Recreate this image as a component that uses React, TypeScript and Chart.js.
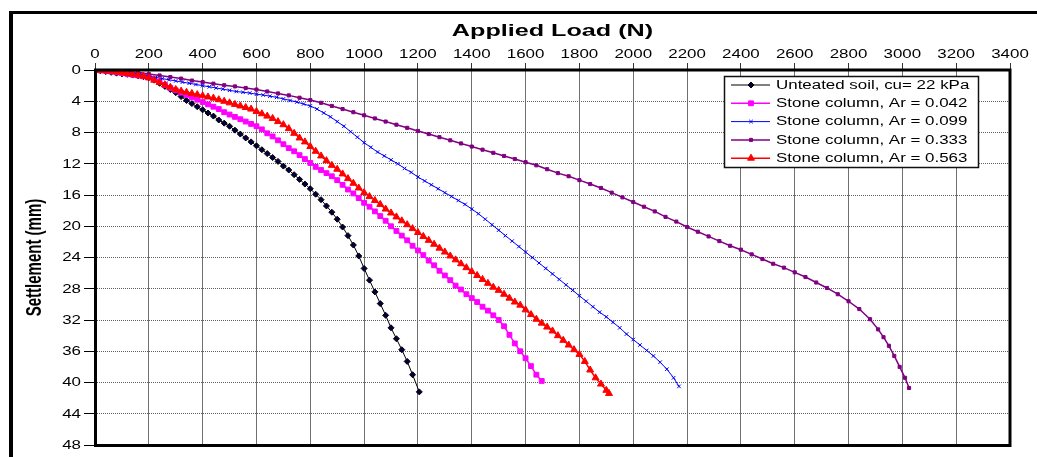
import React, { useEffect, useRef } from 'react';
import { Chart, registerables } from 'chart.js';

Chart.register(...registerables);

// ---------- data (load N, settlement mm) ----------
const untreatedSoil: [number, number][] = [
  [0, 0], [20, 0.1], [40, 0.2], [60, 0.3], [80, 0.4], [100, 0.5], [120, 0.55], [140, 0.65], [160, 0.75], [180, 0.85],
  [200, 1.0], [220, 1.3], [240, 1.7], [260, 2.1], [280, 2.5], [300, 2.9], [320, 3.4], [340, 3.9], [360, 4.3], [380, 4.7],
  [400, 5.1], [420, 5.5], [440, 5.9], [460, 6.4], [480, 6.8], [500, 7.2], [520, 7.7], [540, 8.2], [560, 8.7], [580, 9.2],
  [600, 9.7], [620, 10.2], [640, 10.7], [660, 11.2], [680, 11.7], [700, 12.3], [720, 12.8], [740, 13.4], [760, 14.0], [780, 14.6],
  [800, 15.2], [820, 15.9], [840, 16.6], [860, 17.4], [880, 18.2], [900, 19.1], [920, 20.1], [940, 21.2], [960, 22.4], [980, 23.8],
  [1000, 25.4], [1020, 26.9], [1040, 28.4], [1060, 29.9], [1080, 31.4], [1100, 33.0], [1120, 34.4], [1140, 35.8], [1160, 37.3], [1180, 39.0],
  [1205, 41.2],
];

const stoneAr042: [number, number][] = [
  [0, 0], [20, 0.05], [40, 0.1], [60, 0.2], [80, 0.3], [100, 0.4], [120, 0.5], [140, 0.6], [160, 0.7], [180, 0.8],
  [200, 0.95], [220, 1.2], [240, 1.5], [260, 1.9], [280, 2.3], [300, 2.6], [320, 2.9], [340, 3.2], [360, 3.5], [380, 3.8],
  [400, 4.1], [420, 4.4], [440, 4.7], [460, 5.0], [480, 5.4], [500, 5.7], [520, 6.0], [540, 6.3], [560, 6.6], [580, 6.9],
  [600, 7.2], [620, 7.6], [640, 8.1], [660, 8.5], [680, 9.0], [700, 9.5], [720, 10.0], [740, 10.4], [760, 10.9], [780, 11.4],
  [800, 11.9], [820, 12.4], [840, 12.8], [860, 13.2], [880, 13.6], [900, 14.1], [920, 14.7], [940, 15.3], [960, 15.8], [980, 16.4],
  [1000, 17.0], [1020, 17.5], [1040, 18.1], [1060, 18.7], [1080, 19.3], [1100, 20.0], [1120, 20.6], [1140, 21.2], [1160, 21.8], [1180, 22.5],
  [1200, 23.1], [1220, 23.7], [1240, 24.4], [1260, 25.0], [1280, 25.7], [1300, 26.3], [1320, 26.9], [1340, 27.6], [1360, 28.1], [1380, 28.7],
  [1400, 29.2], [1420, 29.7], [1440, 30.3], [1460, 30.8], [1480, 31.4], [1500, 32.0], [1520, 32.8], [1540, 33.9], [1560, 35.0], [1580, 36.0],
  [1600, 36.9], [1620, 37.9], [1640, 39.0], [1660, 39.8],
];

const stoneAr099: [number, number][] = [
  [0, 0], [25, 0.05], [50, 0.1], [75, 0.2], [100, 0.3], [125, 0.4], [150, 0.5], [175, 0.65], [200, 0.8], [225, 0.95],
  [250, 1.1], [275, 1.25], [300, 1.4], [325, 1.55], [350, 1.7], [375, 1.85], [400, 2.0], [425, 2.15], [450, 2.3], [475, 2.45],
  [500, 2.6], [525, 2.75], [550, 2.85], [575, 2.95], [600, 3.1], [625, 3.2], [650, 3.35], [675, 3.5], [700, 3.7], [725, 3.9],
  [750, 4.1], [775, 4.35], [800, 4.6], [825, 5.0], [850, 5.5], [875, 6.0], [900, 6.6], [925, 7.2], [950, 7.9], [975, 8.6],
  [1000, 9.3], [1025, 9.9], [1050, 10.5], [1075, 11.0], [1100, 11.5], [1125, 12.0], [1150, 12.6], [1175, 13.1], [1200, 13.7], [1225, 14.2],
  [1250, 14.7], [1275, 15.2], [1300, 15.7], [1325, 16.2], [1350, 16.7], [1375, 17.2], [1400, 17.8], [1425, 18.4], [1450, 19.1], [1475, 19.8],
  [1500, 20.5], [1525, 21.2], [1550, 21.9], [1575, 22.6], [1600, 23.3], [1625, 24.0], [1650, 24.7], [1675, 25.4], [1700, 26.1], [1725, 26.8],
  [1750, 27.5], [1775, 28.2], [1800, 28.9], [1825, 29.6], [1850, 30.3], [1875, 31.0], [1900, 31.6], [1925, 32.3], [1950, 33.0], [1975, 33.8],
  [2000, 34.5], [2025, 35.2], [2050, 35.9], [2075, 36.6], [2100, 37.4], [2125, 38.3], [2150, 39.4], [2170, 40.5],
];

const stoneAr333: [number, number][] = [
  [0, 0], [40, 0.05], [80, 0.1], [120, 0.2], [160, 0.3], [200, 0.5], [240, 0.7], [280, 0.9], [320, 1.1], [360, 1.35],
  [400, 1.55], [440, 1.75], [480, 1.95], [520, 2.1], [560, 2.3], [600, 2.5], [640, 2.75], [680, 3.0], [720, 3.25], [760, 3.55],
  [800, 3.85], [840, 4.2], [880, 4.6], [920, 5.0], [960, 5.4], [1000, 5.8], [1040, 6.2], [1080, 6.6], [1120, 7.0], [1160, 7.4],
  [1200, 7.8], [1240, 8.2], [1280, 8.6], [1320, 9.0], [1360, 9.4], [1400, 9.8], [1440, 10.2], [1480, 10.6], [1520, 11.0], [1560, 11.4],
  [1600, 11.8], [1640, 12.2], [1680, 12.7], [1720, 13.2], [1760, 13.6], [1800, 14.1], [1840, 14.6], [1880, 15.1], [1920, 15.7], [1960, 16.3],
  [2000, 16.9], [2040, 17.5], [2080, 18.1], [2120, 18.8], [2160, 19.4], [2200, 20.1], [2240, 20.7], [2280, 21.3], [2320, 21.9], [2360, 22.5],
  [2400, 23.0], [2440, 23.6], [2480, 24.2], [2520, 24.8], [2560, 25.3], [2600, 25.9], [2640, 26.5], [2680, 27.2], [2720, 27.9], [2760, 28.7],
  [2800, 29.6], [2840, 30.6], [2880, 31.9], [2910, 33.2], [2930, 34.2], [2950, 35.3], [2970, 36.6], [2990, 38.0], [3010, 39.4], [3025, 40.7],
];

const stoneAr563: [number, number][] = [
  [0, 0], [20, 0.05], [40, 0.1], [60, 0.15], [80, 0.25], [100, 0.35], [120, 0.45], [140, 0.55], [160, 0.65], [180, 0.8],
  [200, 1.0], [220, 1.3], [240, 1.6], [260, 1.9], [280, 2.2], [300, 2.5], [320, 2.7], [340, 2.85], [360, 3.0], [380, 3.15],
  [400, 3.3], [420, 3.45], [440, 3.6], [460, 3.8], [480, 4.0], [500, 4.2], [520, 4.4], [540, 4.6], [560, 4.8], [580, 5.0],
  [600, 5.3], [620, 5.6], [640, 5.9], [660, 6.2], [680, 6.6], [700, 7.0], [720, 7.5], [740, 8.1], [760, 8.7], [780, 9.2],
  [800, 9.8], [820, 10.4], [840, 11.0], [860, 11.6], [880, 12.2], [900, 12.7], [920, 13.3], [940, 13.9], [960, 14.5], [980, 15.1],
  [1000, 15.7], [1020, 16.2], [1040, 16.7], [1060, 17.2], [1080, 17.8], [1100, 18.3], [1120, 18.8], [1140, 19.3], [1160, 19.8], [1180, 20.3],
  [1200, 20.8], [1220, 21.3], [1240, 21.8], [1260, 22.3], [1280, 22.8], [1300, 23.3], [1320, 23.8], [1340, 24.3], [1360, 24.8], [1380, 25.3],
  [1400, 25.8], [1420, 26.3], [1440, 26.8], [1460, 27.3], [1480, 27.8], [1500, 28.2], [1520, 28.7], [1540, 29.2], [1560, 29.7], [1580, 30.1],
  [1600, 30.7], [1620, 31.3], [1640, 31.9], [1660, 32.4], [1680, 32.9], [1700, 33.4], [1720, 34.0], [1740, 34.6], [1760, 35.2], [1780, 35.8],
  [1800, 36.4], [1820, 37.3], [1840, 38.4], [1860, 39.4], [1880, 40.2], [1900, 41.0], [1910, 41.4],
];

const seriesNames = [
  'Unteated soil, cu= 22 kPa',
  'Stone column, Ar = 0.042',
  'Stone column, Ar = 0.099',
  'Stone column, Ar = 0.333',
  'Stone column, Ar = 0.563',
];

const xTitle = 'Applied Load (N)';
const yTitle = 'Settlement (mm)';
const xMin = 0, xMax = 3400, xStep = 200;
const yMin = 0, yMax = 48, yStep = 4;

// ---------- styles ----------
type Sty = { line: string; fill: string; shape: string; r: number; lw: number };
const styles: Sty[] = [
  { line: '#000000', fill: '#000040', shape: 'rectRot', r: 3, lw: 1 },
  { line: '#FF00FF', fill: '#FF00FF', shape: 'rect', r: 3.4, lw: 1.5 },
  { line: '#0000FF', fill: '#0000FF', shape: 'crossRot', r: 2.5, lw: 1 },
  { line: '#800080', fill: '#800080', shape: 'rect', r: 2.2, lw: 1.5 },
  { line: '#FF0000', fill: '#FF0000', shape: 'triangle', r: 4, lw: 1.5 },
];
const allSeries = [untreatedSoil, stoneAr042, stoneAr099, stoneAr333, stoneAr563];

const FONT = '"Liberation Sans", Arial, sans-serif';

function stretchText(
  ctx: CanvasRenderingContext2D, text: string, x: number, y: number,
  font: string, align: CanvasTextAlign, baseline: CanvasTextBaseline, sx: number, rot = 0,
) {
  ctx.save();
  ctx.translate(x, y);
  ctx.scale(sx, 1);
  if (rot) ctx.rotate(rot);
  ctx.font = font;
  ctx.textAlign = align;
  ctx.textBaseline = baseline;
  ctx.fillStyle = '#000';
  ctx.fillText(text, 0, 0);
  ctx.restore();
}

function marker(ctx: CanvasRenderingContext2D, s: Sty, x: number, y: number) {
  ctx.save();
  ctx.fillStyle = s.fill;
  ctx.strokeStyle = s.line;
  ctx.lineWidth = 1;
  ctx.beginPath();
  const r = s.r;
  if (s.shape === 'rectRot') {
    ctx.moveTo(x, y - r); ctx.lineTo(x + r, y); ctx.lineTo(x, y + r); ctx.lineTo(x - r, y); ctx.closePath();
    ctx.fill(); ctx.stroke();
  } else if (s.shape === 'rect') {
    const h = r * Math.SQRT1_2;
    ctx.rect(x - h, y - h, 2 * h, 2 * h); ctx.fill(); ctx.stroke();
  } else if (s.shape === 'crossRot') {
    const h = r * Math.SQRT1_2;
    ctx.moveTo(x - h, y - h); ctx.lineTo(x + h, y + h);
    ctx.moveTo(x - h, y + h); ctx.lineTo(x + h, y - h); ctx.stroke();
  } else if (s.shape === 'triangle') {
    ctx.moveTo(x, y - r);
    ctx.lineTo(x + r * 0.866, y + r * 0.5);
    ctx.lineTo(x - r * 0.866, y + r * 0.5);
    ctx.closePath(); ctx.fill(); ctx.stroke();
  }
  ctx.restore();
}

const decor = {
  id: 'decor',
  beforeDraw(chart: any) {
    const ctx = chart.ctx as CanvasRenderingContext2D;
    ctx.save();
    ctx.fillStyle = '#fff';
    ctx.fillRect(0, 0, chart.width, chart.height);
    ctx.restore();
  },
  afterDatasetsDraw(chart: any) {
    const ctx = chart.ctx as CanvasRenderingContext2D;
    const bx = 724, by = 76, bw = 254, bh = 91;
    ctx.save();
    ctx.fillStyle = '#fff';
    ctx.fillRect(bx, by, bw, bh);
    ctx.strokeStyle = '#111';
    ctx.lineWidth = 1.5;
    ctx.strokeRect(bx + 0.5, by + 0.5, bw, bh);
    ctx.restore();
    seriesNames.forEach((name, i) => {
      const s = styles[i];
      const y = 85 + i * 18.3;
      ctx.save();
      ctx.strokeStyle = s.line;
      ctx.lineWidth = s.lw;
      ctx.beginPath();
      ctx.moveTo(731, y); ctx.lineTo(770, y); ctx.stroke();
      ctx.restore();
      marker(ctx, s, 751, y);
      stretchText(ctx, name, 776, y + 0.5, `12px ${FONT}`, 'left', 'middle', 1.41);
    });
  },
  afterDraw(chart: any) {
    const ctx = chart.ctx as CanvasRenderingContext2D;
    const a = chart.chartArea;
    ctx.save();
    ctx.strokeStyle = '#000';
    ctx.lineWidth = 3;
    ctx.strokeRect(a.left + 0.5, a.top, a.right - a.left - 0.5, a.bottom - a.top + 0.5);
    ctx.fillStyle = '#000';
    ctx.fillRect(9, 11, 4, chart.height - 11);
    ctx.fillRect(9, 11, chart.width - 9, 3);
    ctx.restore();

    const xs = chart.scales.x, ys = chart.scales.y;
    xs.ticks.forEach((t: any) => {
      stretchText(ctx, String(t.value), xs.getPixelForValue(t.value), 58, `12px ${FONT}`, 'center', 'alphabetic', 1.41);
    });
    ys.ticks.forEach((t: any) => {
      stretchText(ctx, String(t.value), 81, ys.getPixelForValue(t.value) + 0.5, `12px ${FONT}`, 'right', 'middle', 1.41);
    });
    stretchText(ctx, xTitle, (a.left + a.right) / 2, 36, `bold 17px ${FONT}`, 'center', 'alphabetic', 1.48);
    stretchText(ctx, yTitle, 35, (a.top + a.bottom) / 2, `bold 15px ${FONT}`, 'center', 'middle', 1.45, -Math.PI / 2);
  },
};

export default function App() {
  const ref = useRef<HTMLCanvasElement>(null);
  useEffect(() => {
    const chart = new Chart(ref.current!, {
      type: 'scatter',
      data: {
        datasets: allSeries.map((d, i) => ({
          label: seriesNames[i],
          data: d.map(([x, y]) => ({ x, y })),
          showLine: true,
          borderColor: styles[i].line,
          backgroundColor: styles[i].fill,
          borderWidth: styles[i].lw,
          pointStyle: styles[i].shape as any,
          pointRadius: styles[i].r,
          pointHoverRadius: styles[i].r,
          pointBorderColor: styles[i].line,
          pointBackgroundColor: styles[i].fill,
          pointBorderWidth: 1,
          tension: 0,
          order: 4 - i,
        })),
      },
      options: {
        animation: false,
        responsive: false,
        maintainAspectRatio: false,
        layout: { padding: { left: 0, top: 0, right: 27, bottom: 12 } },
        plugins: { legend: { display: false }, tooltip: { enabled: false }, title: { display: false } },
        scales: {
          x: {
            type: 'linear', position: 'top', min: xMin, max: xMax,
            ticks: { stepSize: xStep, display: false },
            grid: { color: '#707070', lineWidth: 1, tickLength: 7, tickColor: '#333' },
            border: { display: false },
            afterFit: (s: any) => { s.height = 70; },
          },
          y: {
            type: 'linear', reverse: true, min: yMin, max: yMax,
            ticks: { stepSize: yStep, display: false },
            grid: { color: '#606060', lineWidth: 1, tickLength: 11, tickColor: '#000', tickBorderDash: [] },
            border: { display: false, dash: [1, 1] },
            afterFit: (s: any) => { s.width = 95; },
          },
        },
      },
      plugins: [decor],
    });
    return () => chart.destroy();
  }, []);
  return (
    <div style={{ position: 'fixed', left: 0, top: 0, width: 1037, height: 457 }}>
      <canvas ref={ref} width={1037} height={457} style={{ display: 'block' }} />
    </div>
  );
}
